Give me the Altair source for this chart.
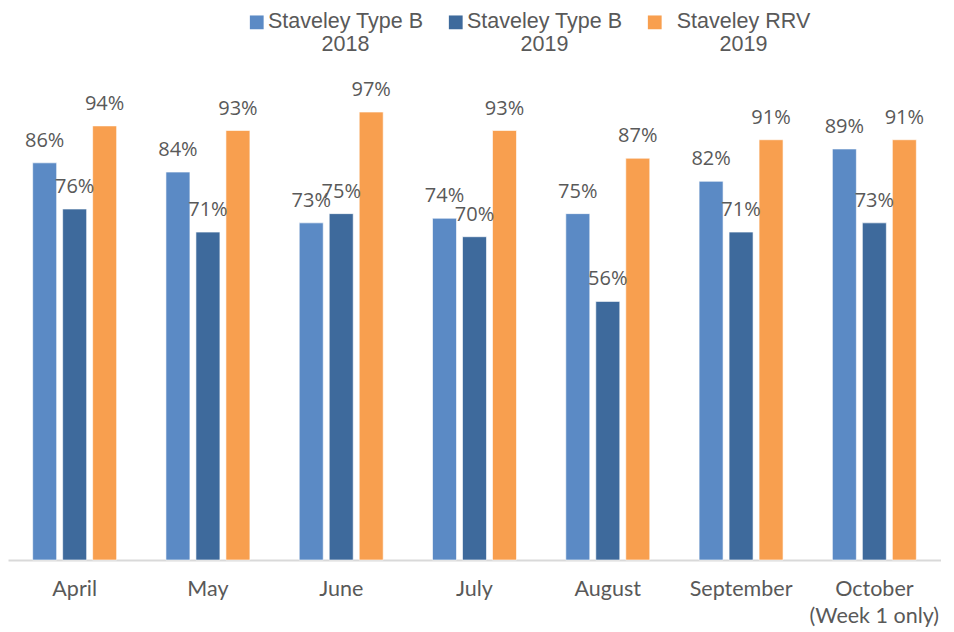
import altair as alt
import pandas as pd

months = ["April", "May", "June", "July", "August", "September", "October|(Week 1 only)"]
series = ["Staveley Type B|2018", "Staveley Type B |2019", "Staveley RRV|2019"]
type_b_2018 = [86, 84, 73, 74, 75, 82, 89]
type_b_2019 = [76, 71, 75, 70, 56, 71, 73]
rrv_2019 = [94, 93, 97, 93, 87, 91, 91]
colors = ["#5B8AC5", "#3E6A9C", "#F89F4F"]

rows = []
for i, m in enumerate(months):
    for s, vals in zip(series, [type_b_2018, type_b_2019, rrv_2019]):
        rows.append({"month": m, "series": s, "value": vals[i], "label": f"{vals[i]}%"})
df = pd.DataFrame(rows)

x = alt.X("month:N", sort=months, title=None,
          scale=alt.Scale(paddingInner=0.37, paddingOuter=0.185),
          axis=alt.Axis(labelExpr="split(datum.label, '|')", labelAngle=0, ticks=False,
                        domainColor="#D9D9D9", domainWidth=2, labelPadding=18,
                        labelFontSize=21.5, labelColor="#595959",
                        labelFont="Lato, Open Sans, sans-serif",
                        labelLineHeight=27))
xo = alt.XOffset("series:N", sort=series, scale=alt.Scale(paddingInner=0.2))
y = alt.Y("value:Q", scale=alt.Scale(domain=[0, 110]), axis=None)

bars = alt.Chart(df).mark_bar(stroke="#ffffff", strokeWidth=1, strokeOpacity=0.6).encode(
    x=x, xOffset=xo, y=y,
    color=alt.Color("series:N", sort=series,
                    scale=alt.Scale(domain=series, range=colors),
                    legend=alt.Legend(title=None, orient="none", direction="horizontal",
                                      legendX=238, legendY=-35,
                                      symbolType="M-1,-1.8H1V0.2H-1Z", symbolSize=190,
                                      symbolStrokeWidth=0,
                                      labelExpr="split(datum.label, '|')",
                                      labelFontSize=21.5, labelColor="#595959",
                                      labelFont="Liberation Sans, Arial, sans-serif",
                                      labelAlign="center", labelOffset=78,
                                      labelBaseline="alphabetic",
                                      columnPadding=21, labelLimit=300))
)

text = alt.Chart(df).mark_text(baseline="bottom", dy=-12, fontSize=20, color="#595959",
                               font="Open Sans, DejaVu Sans, sans-serif").encode(
    x=x, xOffset=xo, y=y, text="label:N"
)

chart = (bars + text).properties(width=933, height=508, padding={"top": 9, "left": 0, "right": 0, "bottom": 0}).configure_view(stroke=None)

chart.save("out.html", embed_options={"renderer": "svg", "actions": False})
